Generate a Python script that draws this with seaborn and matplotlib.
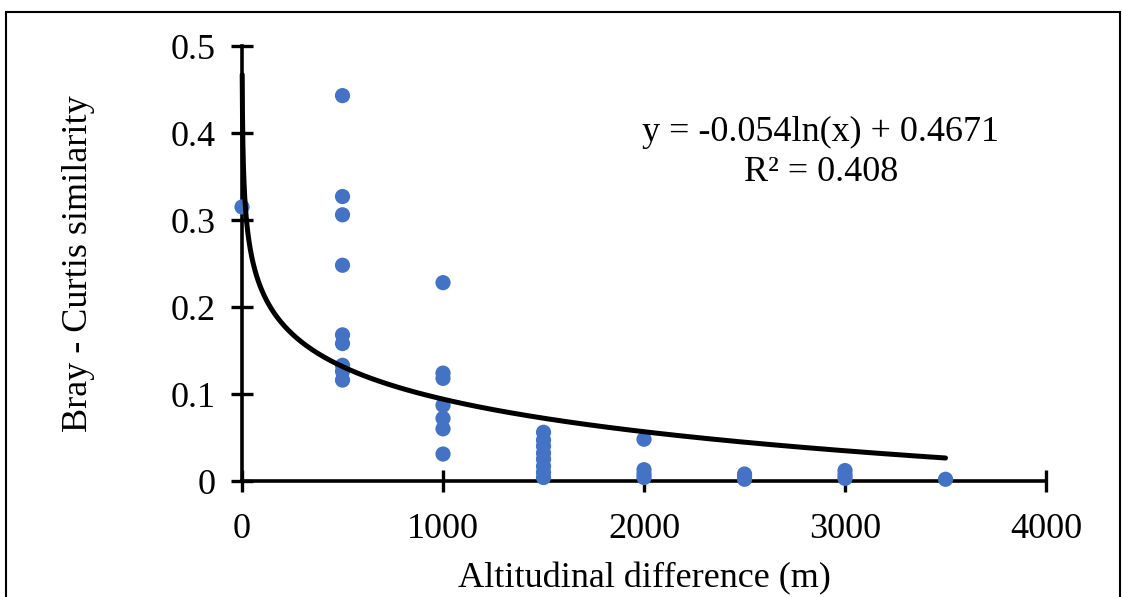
import numpy as np
import pandas as pd
import seaborn as sns
import matplotlib.pyplot as plt
from matplotlib.patches import Rectangle

# Altitudinal difference (m) and Bray-Curtis similarity
alt_diff = [0,
            500, 500, 500, 500, 500, 500, 500, 500, 500,
            1000, 1000, 1000, 1000, 1000, 1000, 1000,
            1500, 1500, 1500, 1500, 1500, 1500, 1500, 1500,
            2000, 2000, 2000, 2000,
            2500, 2500, 2500,
            3000, 3000, 3000,
            3500]
similarity = [0.315,
              0.443, 0.327, 0.306, 0.248, 0.168, 0.158, 0.133, 0.126, 0.116,
              0.228, 0.124, 0.118, 0.087, 0.072, 0.060, 0.031,
              0.056, 0.047, 0.040, 0.032, 0.025, 0.017, 0.010, 0.004,
              0.048, 0.013, 0.008, 0.004,
              0.008, 0.005, 0.002,
              0.012, 0.007, 0.003,
              0.002]

# logarithmic trend line from the chart: y = a*ln(x) + b
trend_a = -0.054
trend_b = 0.4671
trend_r2 = 0.408
trend_xmin, trend_xmax = 1, 3500

x_ticks = [0, 1000, 2000, 3000, 4000]
y_ticks = [0, 0.1, 0.2, 0.3, 0.4, 0.5]
y_tick_labels = ["0", "0.1", "0.2", "0.3", "0.4", "0.5"]

df = pd.DataFrame({"alt": alt_diff, "sim": similarity})
xs = np.geomspace(trend_xmin, trend_xmax, 400)
trend = pd.DataFrame({"alt": xs, "sim": trend_a * np.log(xs) + trend_b})

sns.set_style("white")
plt.rcParams['font.family'] = ['Liberation Serif', 'DejaVu Serif']
plt.rcParams['text.color'] = 'black'
plt.rcParams['axes.labelcolor'] = 'black'
plt.rcParams['xtick.color'] = 'black'
plt.rcParams['ytick.color'] = 'black'

fig = plt.figure(figsize=(11.22, 5.97), dpi=100)
ax = fig.add_axes([0.2157, 0.1943, 0.9323 - 0.2157, 0.9229 - 0.1943])

sns.scatterplot(data=df, x="alt", y="sim", ax=ax, color="#4472C4", s=120,
                edgecolor="none", zorder=3, clip_on=False)
sns.lineplot(data=trend, x="alt", y="sim", ax=ax, color="black",
             linewidth=3.6, zorder=4, clip_on=False)

ax.set_xlim(0, 4000)
ax.set_ylim(0, 0.5)
ax.set_xticks(x_ticks)
ax.set_yticks(y_ticks)
ax.set_yticklabels(y_tick_labels)
ax.tick_params(axis='both', direction='inout', length=16, width=2.4,
               labelsize=26, colors='black', bottom=True, left=True)
ax.tick_params(axis='y', pad=11)
ax.tick_params(axis='x', pad=15)
for side in ['top', 'right']:
    ax.spines[side].set_visible(False)
for side in ['left', 'bottom']:
    ax.spines[side].set_linewidth(2.6)
    ax.spines[side].set_color('black')

ax.set_xlabel("Altitudinal difference (m)", fontsize=26)
ax.set_ylabel("Bray - Curtis similarity", fontsize=26)
ax.xaxis.set_label_coords(0.5, -0.225)
ax.yaxis.set_label_coords(-0.203, 0.5)
ax.yaxis.label.set_va('center')
ax.xaxis.label.set_va('center')

ax.text(0.72, 0.755, f"y = {trend_a}ln(x) + {trend_b}\nR² = {trend_r2}",
        transform=ax.transAxes, ha='center', va='center', fontsize=26,
        linespacing=1.3)

# outer chart frame (bottom edge falls outside the image)
fig.patches.append(Rectangle((0.005, -0.1), 0.993, 1.08, transform=fig.transFigure,
                             fill=False, edgecolor='black', linewidth=1.5,
                             clip_on=False))

plt.savefig("out.png", dpi=100)
